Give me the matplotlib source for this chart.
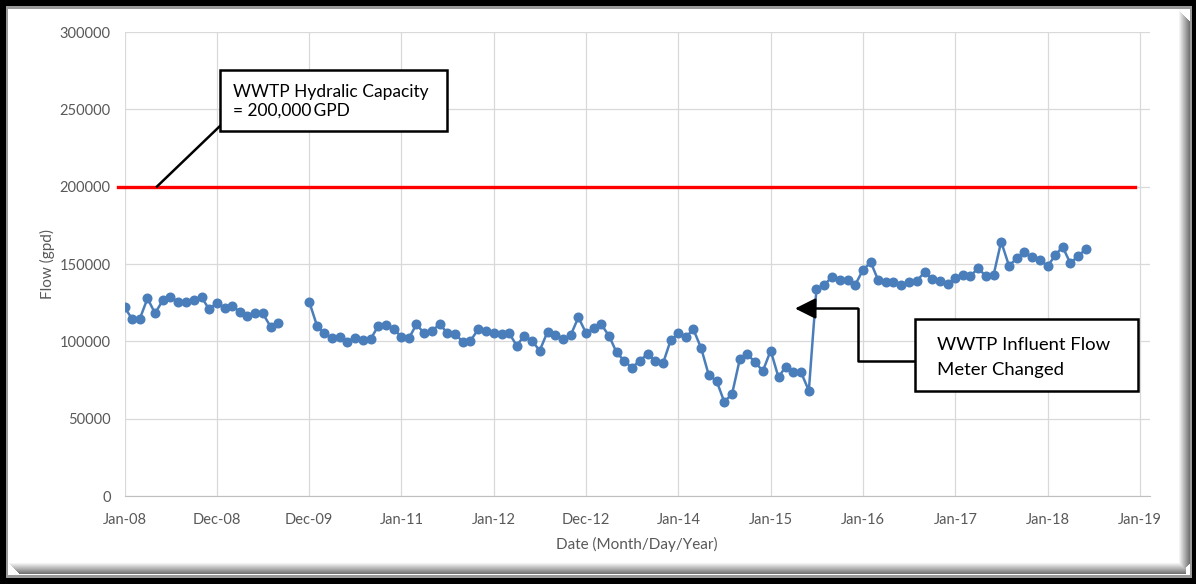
import numpy as np
import pandas as pd
import matplotlib
matplotlib.use("Agg")
import matplotlib.pyplot as plt
import matplotlib.dates as mdates
from matplotlib.patches import Rectangle, FancyArrowPatch

plt.rcParams["font.family"] = ["Lato", "DejaVu Sans"]

# monthly influent flow, gpd (Oct-Dec 2009 not recorded)
start_month = "2008-01-01"
flow = [
    122000, 114300, 114300, 127800, 118100, 126700, 128500, 125600, 125600, 126700,
    128500, 120700, 125000, 121400, 122900, 119200, 116400, 118100, 118100, 109500,
    112100, np.nan, np.nan, np.nan, 125600, 109900, 105600, 102000, 103000, 99800,
    102400, 100900, 101500, 109900, 110600, 107800, 103000, 102400, 111000, 105200,
    106700, 111000, 105600, 104600, 99800, 100400, 107800, 106500, 105200, 104500,
    105600, 97200, 103700, 100200, 94000, 106200, 104100, 101300, 104100, 115500,
    105200, 108400, 111000, 103700, 92900, 87300, 83000, 87500, 91800, 87500,
    85800, 100600, 105200, 103000, 107800, 95500, 78200, 74400, 61000, 65800,
    88600, 91600, 86400, 80800, 94000, 76700, 83600, 80400, 80000, 68100,
    133800, 136400, 141800, 139700, 139700, 136400, 146100, 151100, 139700, 138600,
    138600, 136400, 138600, 139200, 144600, 140300, 139200, 137100, 140800, 142900,
    142300, 147200, 142300, 142900, 164400, 148900, 153700, 157600, 154300, 152600,
    148700, 155800, 161200, 150400, 155200, 159500,
]
capacity = 200000
tick_dates = ["2008-01-01", "2008-12-31", "2009-12-31", "2011-01-01", "2012-01-01",
              "2012-12-31", "2014-01-01", "2015-01-01", "2016-01-01", "2017-01-01",
              "2018-01-01", "2019-01-01"]
y_ticks = [0, 50000, 100000, 150000, 200000, 250000, 300000]
capacity_note = ["WWTP Hydralic Capacity", "= 200,000\u2009GPD"]
meter_note = ["WWTP Influent Flow", "Meter Changed"]

W, H = 1196, 584
dates = pd.date_range(start_month, periods=len(flow), freq="MS")

fig = plt.figure(figsize=(W / 100, H / 100), dpi=100, facecolor="black")


def fx(px):
    return px / W


def fy(py):
    return 1 - py / H


# framed white panel with a soft inner shadow on the right/bottom
fig.patches.append(Rectangle((fx(6), fy(578)), fx(1186), 572 / H, transform=fig.transFigure,
                             facecolor="#9a9a9a", edgecolor="none", zorder=-3))
fig.patches.append(Rectangle((fx(8), fy(575)), fx(1182), 566 / H, transform=fig.transFigure,
                             facecolor="white", edgecolor="none", zorder=-2))
for i in range(12):
    g = 1 - 0.05 * i
    fig.patches.append(Rectangle((fx(1178 + i), fy(575 - i)), fx(1), (565 - 2 * i) / H,
                                 transform=fig.transFigure, facecolor=(g, g, g),
                                 edgecolor="none", zorder=-1))
    fig.patches.append(Rectangle((fx(8 + i), fy(563 + i)), fx(1178 - i), 1 / H,
                                 transform=fig.transFigure, facecolor=(g, g, g),
                                 edgecolor="none", zorder=-1))

ax = fig.add_axes([124.5 / W, 88 / H, 1025.5 / W, 464 / H])
ax.set_facecolor("white")

grid_c = "#d9d9d9"
for s in ax.spines.values():
    s.set_visible(False)
ax.spines["bottom"].set_visible(True)
ax.spines["bottom"].set_color("#bfbfbf")

ax.set_ylim(0, 300000)
ax.set_yticks(y_ticks)
ax.set_yticklabels([str(v) for v in y_ticks])
ax.set_xlim(pd.Timestamp("2008-01-01"), pd.Timestamp("2019-02-10"))
ax.set_xticks(pd.to_datetime(tick_dates))
ax.xaxis.set_major_formatter(mdates.DateFormatter("%b-%y"))
ax.grid(True, color=grid_c, linewidth=0.9)
ax.set_axisbelow(True)
ax.tick_params(length=0, labelsize=10.5, labelcolor="#595959")
ax.tick_params(axis="x", pad=12)
ax.tick_params(axis="y", pad=10)

ax.set_xlabel("Date (Month/Day/Year)", fontsize=11, color="#595959")
ax.set_ylabel("Flow (gpd)", fontsize=11, color="#595959")
ax.xaxis.set_label_coords(0.5, -0.088)
ax.yaxis.set_label_coords(-0.068, 0.5)

ax.plot(dates, flow, color="#4a7ebb", linewidth=1.8, marker="o", markersize=6.2, zorder=3)

# capacity line runs a little past the left edge of the plot area
ax.plot([-0.006, 0.985], [capacity, capacity], transform=ax.get_yaxis_transform(),
        color="#ff0000", linewidth=2.4, clip_on=False, zorder=4)

# callout boxes (axes fraction)
def callout(x0, y0, x1, y1):
    ax.add_patch(Rectangle((x0, y0), x1 - x0, y1 - y0, transform=ax.transAxes,
                           facecolor="white", edgecolor="black", linewidth=1.8,
                           zorder=6, clip_on=False))


def px_ax(px, py):
    return ((px - 124.5) / 1025.5, (496 - py) / 464)


b1 = px_ax(220, 131), px_ax(447, 70)
callout(b1[0][0], b1[0][1], b1[1][0], b1[1][1])
for i, line in enumerate(capacity_note):
    x, y = px_ax(233, 96.5 + 19.5 * i)
    ax.text(x, y, line, transform=ax.transAxes, fontsize=12.5, va="baseline", zorder=7)
p0, p1 = px_ax(157, 186.5), px_ax(220, 126)
ax.plot([p0[0], p1[0]], [p0[1], p1[1]], transform=ax.transAxes, color="black",
        linewidth=1.8, clip_on=False, zorder=5)

b2 = px_ax(915, 391), px_ax(1138, 319)
callout(b2[0][0], b2[0][1], b2[1][0], b2[1][1])
for i, line in enumerate(meter_note):
    x, y = px_ax(937, 350 + 25 * i)
    ax.text(x, y, line, transform=ax.transAxes, fontsize=13.3, va="baseline", zorder=7)
elbow = [px_ax(917, 361), px_ax(858, 361), px_ax(858, 308.5)]
ax.plot([p[0] for p in elbow], [p[1] for p in elbow], transform=ax.transAxes,
        color="black", linewidth=1.8, zorder=5)
tip = px_ax(795, 308.5)
ax.add_patch(FancyArrowPatch(elbow[-1], tip, transform=ax.transAxes,
                             arrowstyle="-|>,head_length=0.9,head_width=0.45",
                             mutation_scale=14, color="black", linewidth=1.8,
                             shrinkA=0, shrinkB=0, zorder=5))

fig.savefig("out.png", dpi=100, facecolor=fig.get_facecolor())
